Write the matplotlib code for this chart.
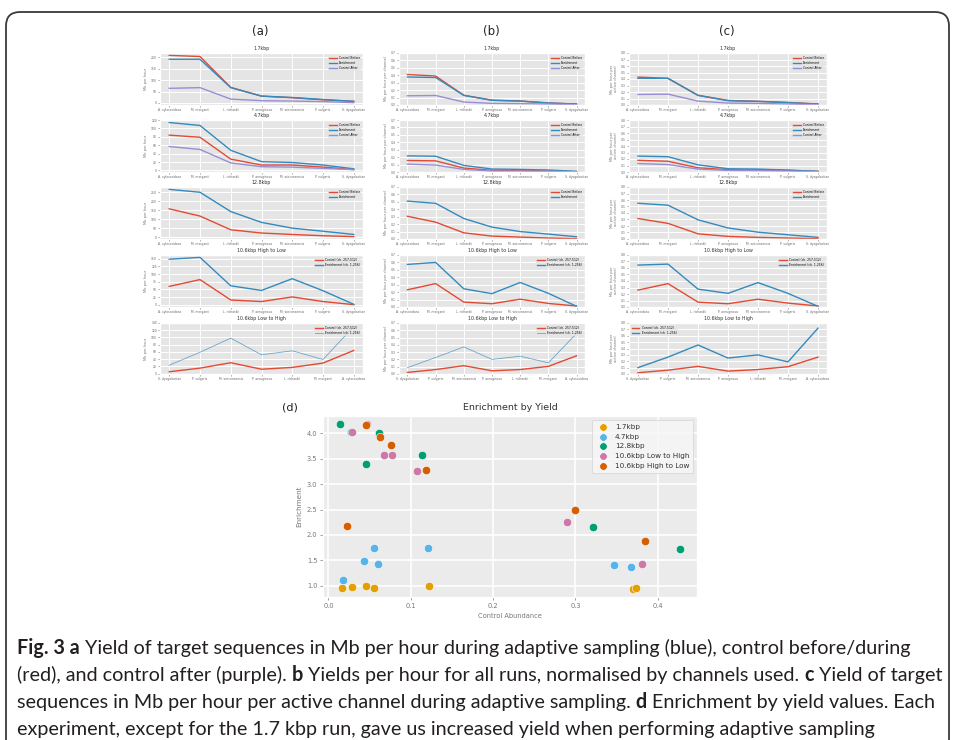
import numpy as np
import matplotlib
matplotlib.use("Agg")
from matplotlib import pyplot as plt
from matplotlib.patches import FancyBboxPatch

plt.style.use("ggplot")

# species order used by most runs
species = ["A. xylosoxidans", "M. morganii", "L. richardii", "P. aeruginosa",
           "M. wisconsensis", "P. vulgaris", "S. dysgalactiae"]
species_rev = ["S. dysgalactiae", "P. vulgaris", "M. wisconsensis", "P. aeruginosa",
               "L. richardii", "M. morganii", "A. xylosoxidans"]

titles = ["1.7kbp", "4.7kbp", "12.8kbp", "10.6kbp High to Low", "10.6kbp Low to High"]

#(a) Mb per hour
a_17_before = [208, 203, 68, 30, 23, 14, 7]
a_17_enrich = [191, 191, 67, 30, 24, 15, 7]
a_17_after = [64, 67, 17, 10, 8.5, 6, 1.5]
a_47_before = [84, 79, 27, 13, 13, 8, 2]
a_47_enrich = [114, 107, 48, 21, 19, 13, 4]
a_47_after = [57, 50, 18, 9, 8, 5, 2]
a_128_before = [158, 118, 42, 24, 16, 9, 4]
a_128_enrich = [266, 250, 143, 83, 51, 34, 16]
a_h2l_control = [60, 82, 16, 11, 26, 11, 1]
a_h2l_enrich = [148, 154, 62, 47, 85, 46, 2]
a_l2h_control = [5, 15, 30, 12, 17, 29, 64]
a_l2h_enrich = [23, 59, 98, 52, 63, 39, 130]

#(b) Mb per hour per channel
b_17_before = [0.41, 0.39, 0.13, 0.066, 0.053, 0.027, 0.013]
b_17_enrich = [0.377, 0.37, 0.13, 0.062, 0.053, 0.027, 0.013]
b_17_after = [0.124, 0.128, 0.04, 0.022, 0.018, 0.013, 0.004]
b_47_before = [0.155, 0.15, 0.053, 0.022, 0.022, 0.013, 0.004]
b_47_enrich = [0.217, 0.212, 0.089, 0.04, 0.035, 0.027, 0.009]
b_47_after = [0.106, 0.093, 0.035, 0.013, 0.013, 0.009, 0.004]
b_128_before = [0.306, 0.227, 0.083, 0.039, 0.026, 0.013, 0.004]
b_128_enrich = [0.51, 0.48, 0.276, 0.16, 0.10, 0.066, 0.03]
b_h2l_control = [0.232, 0.315, 0.066, 0.044, 0.105, 0.048, 0.013]
b_h2l_enrich = [0.573, 0.60, 0.245, 0.18, 0.33, 0.184, 0.009]
b_l2h_control = [0.022, 0.061, 0.114, 0.044, 0.061, 0.105, 0.25]
b_l2h_enrich = [0.087, 0.227, 0.372, 0.20, 0.245, 0.153, 0.556]

#(c) Mb per hour per active channel
c_17_before = [0.43, 0.41, 0.15, 0.07, 0.056, 0.04, 0.015]
c_17_enrich = [0.41, 0.41, 0.147, 0.066, 0.056, 0.035, 0.015]
c_17_after = [0.162, 0.167, 0.06, 0.03, 0.025, 0.015, 0.005]
c_47_before = [0.18, 0.165, 0.065, 0.035, 0.03, 0.025, 0.01]
c_47_enrich = [0.245, 0.235, 0.11, 0.05, 0.045, 0.03, 0.01]
c_47_after = [0.13, 0.115, 0.045, 0.025, 0.02, 0.015, 0.005]
c_128_before = [0.315, 0.24, 0.08, 0.04, 0.025, 0.015, 0.005]
c_128_enrich = [0.55, 0.52, 0.295, 0.17, 0.105, 0.065, 0.025]
c_h2l_control = [0.26, 0.36, 0.075, 0.05, 0.12, 0.06, 0.015]
c_h2l_enrich = [0.645, 0.66, 0.275, 0.21, 0.375, 0.21, 0.01]
c_l2h_control = [0.02, 0.06, 0.12, 0.045, 0.07, 0.115, 0.265]
c_l2h_enrich = [0.10, 0.265, 0.455, 0.25, 0.30, 0.19, 0.72]

#(d) enrichment vs control abundance
d_names = ["1.7kbp", "4.7kbp", "12.8kbp", "10.6kbp Low to High", "10.6kbp High to Low"]
d_x = [[0.016, 0.029, 0.045, 0.055, 0.122, 0.370, 0.373],
       [0.018, 0.043, 0.055, 0.060, 0.121, 0.347, 0.367],
       [0.014, 0.027, 0.046, 0.061, 0.114, 0.321, 0.427],
       [0.029, 0.047, 0.067, 0.077, 0.107, 0.290, 0.381],
       [0.046, 0.062, 0.076, 0.118, 0.022, 0.299, 0.385]]
d_y = [[0.95, 0.97, 0.99, 0.96, 0.99, 0.94, 0.95],
       [1.12, 1.49, 1.75, 1.43, 1.75, 1.40, 1.36],
       [4.18, 4.03, 3.40, 4.01, 3.57, 2.16, 1.72],
       [4.03, 4.18, 3.58, 3.58, 3.25, 2.25, 1.42],
       [4.16, 3.93, 3.77, 3.28, 2.18, 2.50, 1.89]]
d_colors = ["#E69F00", "#56B4E9", "#009E73", "#CC79A7", "#D55E00"]

RED, BLUE, PURPLE = "#E24A33", "#348ABD", "#988ED5"
W, H = 955, 740

fig = plt.figure(figsize=(W/100, H/100), dpi=100)
fig.patch.set_facecolor("white")

bg = fig.add_axes([0, 0, 1, 1])
bg.set_xlim(0, W)
bg.set_ylim(H, 0)
bg.axis("off")
bg.add_patch(FancyBboxPatch((6, 12), 943, 780, boxstyle="round,pad=0,rounding_size=14",
                            fill=False, edgecolor="#3a3a3a", lw=1.3))


def px_axes(x0, y0, x1, y1):
    return fig.add_axes([x0/W, 1 - y1/H, (x1 - x0)/W, (y1 - y0)/H])


def small_panel(ax, title, labels, lines, ylabel, yticks, ylim=None, loc="upper right"):
    x = np.arange(len(labels))
    for y, name, col, lw, alpha in lines:
        ax.plot(x, y, color=col, lw=lw, alpha=alpha, label=name)
    ax.set_xticks(x)
    ax.set_xticklabels(labels)
    ax.set_yticks(yticks)
    if ylim is not None:
        ax.set_ylim(*ylim)
    ax.tick_params(labelsize=2.2, length=1.2, width=0.4, pad=1, colors="#666666")
    ax.set_title(title, fontsize=3.4, pad=2, color="#333333")
    ax.set_ylabel(ylabel, fontsize=2.6, labelpad=2, color="#777777")
    ax.grid(color="white", lw=0.7)
    leg = ax.legend(loc=loc, fontsize=2.2, handlelength=2.5, borderpad=0.4,
                    labelspacing=0.3, frameon=True)
    leg.get_frame().set_linewidth(0)


rows = [(53, 105), (120, 172), (187, 239), (255, 307), (323, 374)]
cols = [(160, 363), (399, 585), (629, 827)]

col_data = [
    dict(s17=(a_17_before, a_17_enrich, a_17_after), s47=(a_47_before, a_47_enrich, a_47_after),
         s128=(a_128_before, a_128_enrich), h2l=(a_h2l_control, a_h2l_enrich),
         l2h=(a_l2h_control, a_l2h_enrich), ylabel="Mb per hour",
         yt=[np.arange(0, 201, 50), np.arange(0, 121, 20), np.arange(0, 251, 50),
             np.arange(0, 151, 25), np.arange(0, 141, 20)], ylim=None, thin=True),
    dict(s17=(b_17_before, b_17_enrich, b_17_after), s47=(b_47_before, b_47_enrich, b_47_after),
         s128=(b_128_before, b_128_enrich), h2l=(b_h2l_control, b_h2l_enrich),
         l2h=(b_l2h_control, b_l2h_enrich), ylabel="Mb per hour per channel",
         yt=[np.round(np.arange(0, 0.71, 0.1), 1)] * 5, ylim=(0, 0.7), thin=True),
    dict(s17=(c_17_before, c_17_enrich, c_17_after), s47=(c_47_before, c_47_enrich, c_47_after),
         s128=(c_128_before, c_128_enrich), h2l=(c_h2l_control, c_h2l_enrich),
         l2h=(c_l2h_control, c_l2h_enrich), ylabel="Mb per hour per\nactive channel",
         yt=[np.round(np.arange(0, 0.81, 0.1), 1)] * 5, ylim=(0, 0.8), thin=False),
]

for ci, cd in enumerate(col_data):
    x0, x1 = cols[ci]
    axs = [px_axes(x0, r0, x1, r1) for r0, r1 in rows]
    small_panel(axs[0], titles[0], species,
                [(cd["s17"][0], "Control Before", RED, 1.0, 1),
                 (cd["s17"][1], "Enrichment", BLUE, 1.0, 1),
                 (cd["s17"][2], "Control After", PURPLE, 1.0, 1)],
                cd["ylabel"], cd["yt"][0], cd["ylim"])
    small_panel(axs[1], titles[1], species,
                [(cd["s47"][0], "Control Before", RED, 1.0, 1),
                 (cd["s47"][1], "Enrichment", BLUE, 1.0, 1),
                 (cd["s47"][2], "Control After", PURPLE, 1.0, 1)],
                cd["ylabel"], cd["yt"][1], cd["ylim"])
    small_panel(axs[2], titles[2], species,
                [(cd["s128"][0], "Control Before", RED, 1.0, 1),
                 (cd["s128"][1], "Enrichment", BLUE, 1.0, 1)],
                cd["ylabel"], cd["yt"][2], cd["ylim"])
    small_panel(axs[3], titles[3], species,
                [(cd["h2l"][0], "Control (ch. 257-512)", RED, 1.0, 1),
                 (cd["h2l"][1], "Enrichment (ch. 1-256)", BLUE, 1.0, 1)],
                cd["ylabel"], cd["yt"][3], cd["ylim"])
    lw_b, al_b = (0.6, 0.7) if cd["thin"] else (1.0, 1)
    small_panel(axs[4], titles[4], species_rev,
                [(cd["l2h"][0], "Control (ch. 257-512)", RED, 1.0, 1),
                 (cd["l2h"][1], "Enrichment (ch. 1-256)", BLUE, lw_b, al_b)],
                cd["ylabel"], cd["yt"][4], cd["ylim"],
                loc="upper right" if cd["thin"] else "upper left")

for lab, xp in zip(["(a)", "(b)", "(c)"], [260, 491, 727]):
    bg.text(xp, 31, lab, fontsize=8.5, ha="center", va="center", color="#222222")

# scatter (d)
axd = px_axes(323, 416, 697, 597)
axd.set_facecolor("#EBEBEB")
for xs, ys, name, col in zip(d_x, d_y, d_names, d_colors):
    axd.scatter(xs, ys, s=36, color=col, edgecolor="white", linewidth=0.4, label=name, zorder=3)
axd.set_xticks([0.0, 0.1, 0.2, 0.3, 0.4])
axd.set_yticks([1.0, 1.5, 2.0, 2.5, 3.0, 3.5, 4.0])
axd.tick_params(labelsize=4.8, length=2, width=0.5, pad=2, colors="#777777")
axd.grid(color="white", lw=1.2)
axd.set_title("Enrichment by Yield", fontsize=6.8, pad=4, color="#333333")
axd.set_xlabel("Control Abundance", fontsize=4.8, labelpad=3, color="#777777")
axd.set_ylabel("Enrichment", fontsize=5.2, labelpad=3, color="#777777")
leg = axd.legend(loc="upper right", fontsize=5.2, frameon=True, borderpad=0.6,
                 labelspacing=0.5, handletextpad=0.6, markerscale=0.9)
for t in leg.get_texts():
    t.set_color("#333333")
leg.get_frame().set_facecolor("#F7F7F7")
leg.get_frame().set_edgecolor("#CCCCCC")
leg.get_frame().set_linewidth(0.5)
bg.text(290, 407, "(d)", fontsize=8, ha="center", va="center", color="#222222")

# caption
caption = [
    (654, [("Fig. 3 a", True), (" Yield of target sequences in Mb per hour during adaptive sampling (blue), control before/during", False)]),
    (681, [("(red), and control after (purple). ", False), ("b", True),
           (" Yields per hour for all runs, normalised by channels used. ", False), ("c", True),
           (" Yield of target", False)]),
    (708, [("sequences in Mb per hour per active channel during adaptive sampling. ", False), ("d", True),
           (" Enrichment by yield values. Each", False)]),
    (735, [("experiment, except for the 1.7 kbp run, gave us increased yield when performing adaptive sampling", False)]),
]
for yb, parts in caption:
    prev = None
    for s, bold in parts:
        kw = dict(fontsize=14.2, family="Lato", color="#231F20",
                  fontweight="bold" if bold else "normal")
        if prev is None:
            prev = bg.text(17, yb, s, ha="left", va="baseline", **kw)
        else:
            # x follows the previous piece, y stays on the line's baseline
            prev = bg.annotate(s, xy=(1, yb), xycoords=(prev, "data"),
                               ha="left", va="baseline", **kw)

plt.savefig("out.png", dpi=100)
